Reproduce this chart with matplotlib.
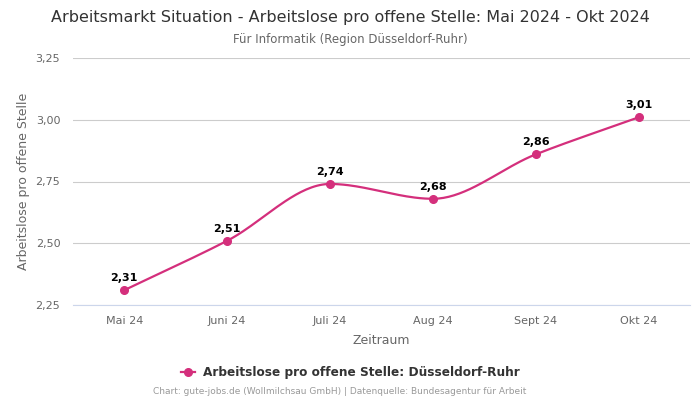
import matplotlib
matplotlib.use("Agg")
import matplotlib.pyplot as plt
import numpy as np

# data
months = ["Mai 24", "Juni 24", "Juli 24", "Aug 24", "Sept 24", "Okt 24"]
values = [2.31, 2.51, 2.74, 2.68, 2.86, 3.01]
y_ticks = [2.25, 2.50, 2.75, 3.00, 3.25]

color = "#d42f7c"


def monotone_curve(x, y, n=40):
    # Fritsch-Carlson monotone cubic, just for drawing a smooth line
    x = np.asarray(x, float)
    y = np.asarray(y, float)
    h = np.diff(x)
    d = np.diff(y) / h
    m = np.zeros_like(y)
    m[0], m[-1] = d[0], d[-1]
    for i in range(1, len(y) - 1):
        if d[i - 1] * d[i] <= 0:
            m[i] = 0
        else:
            m[i] = 2 / (1 / d[i - 1] + 1 / d[i])
    xs, ys = [], []
    for i in range(len(x) - 1):
        t = np.linspace(0, 1, n)
        h00 = 2 * t**3 - 3 * t**2 + 1
        h10 = t**3 - 2 * t**2 + t
        h01 = -2 * t**3 + 3 * t**2
        h11 = t**3 - t**2
        xs.append(x[i] + t * h[i])
        ys.append(h00 * y[i] + h10 * h[i] * m[i] + h01 * y[i + 1] + h11 * h[i] * m[i + 1])
    return np.concatenate(xs), np.concatenate(ys)


fig = plt.figure(figsize=(7, 4), dpi=100)
ax = fig.add_axes([0.104, 0.2375, 0.882, 0.6175])

xpos = np.arange(len(months))
cx, cy = monotone_curve(xpos, values)
ax.plot(cx, cy, color=color, lw=1.6, zorder=3)
ax.plot(xpos, values, "o", color=color, ms=5.5, zorder=4)

for x, v in zip(xpos, values):
    ax.annotate(f"{v:.2f}".replace(".", ","), (x, v), xytext=(0, 5),
                textcoords="offset points", ha="center", va="bottom",
                fontsize=8, fontweight="bold", color="black")

ax.set_xlim(-0.5, len(months) - 0.5)
ax.set_ylim(2.25, 3.25)
ax.set_xticks(xpos)
ax.set_xticklabels(months)
ax.set_yticks(y_ticks)
ax.set_yticklabels([f"{t:.2f}".replace(".", ",") for t in y_ticks])
ax.tick_params(axis="both", length=0, labelsize=8, colors="#666666")
ax.tick_params(axis="x", pad=8)
ax.tick_params(axis="y", pad=9)
ax.grid(axis="y", color="#cccccc", lw=0.8)
for s in ax.spines.values():
    s.set_visible(False)
ax.spines["bottom"].set_visible(True)
ax.spines["bottom"].set_color("#ccd6eb")

ax.set_xlabel("Zeitraum", fontsize=9, color="#666666", labelpad=6)
ax.set_ylabel("Arbeitslose pro offene Stelle", fontsize=9, color="#666666", labelpad=4)

fig.text(0.5, 0.957, "Arbeitsmarkt Situation - Arbeitslose pro offene Stelle: Mai 2024 - Okt 2024",
         ha="center", va="center", fontsize=11.5, color="#333333")
fig.text(0.5, 0.902, "Für Informatik (Region Düsseldorf-Ruhr)",
         ha="center", va="center", fontsize=8.5, color="#666666")

leg = fig.legend([plt.Line2D([], [], color=color, marker="o", ms=5.5, lw=1.6)],
                 ["Arbeitslose pro offene Stelle: Düsseldorf-Ruhr"],
                 loc="center", bbox_to_anchor=(0.5, 0.068), frameon=False,
                 handlelength=1.2, handletextpad=0.6, prop={"size": 8.7, "weight": "bold"})
for t in leg.get_texts():
    t.set_color("#333333")

fig.text(0.485, 0.02, "Chart: gute-jobs.de (Wollmilchsau GmbH) | Datenquelle: Bundesagentur für Arbeit",
         ha="center", va="center", fontsize=6.5, color="#999999")

fig.savefig("out.png", dpi=100)
